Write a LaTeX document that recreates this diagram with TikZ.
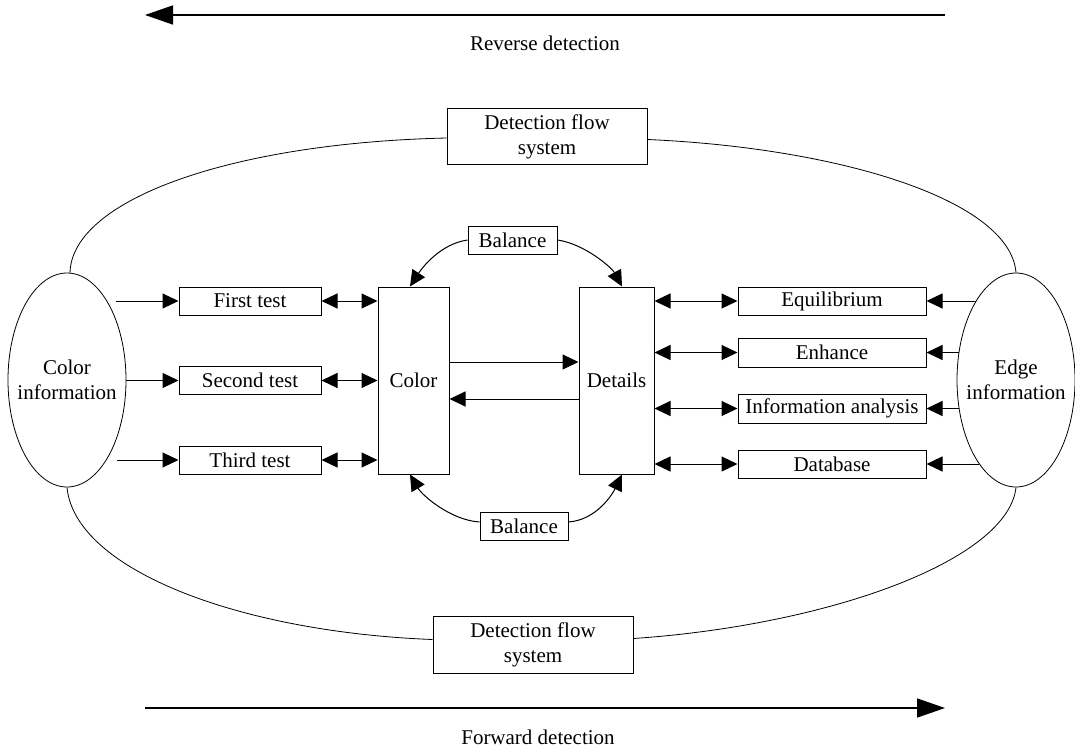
\documentclass[tikz,border=0pt]{standalone}
\usepackage{fontspec}
\setmainfont{Liberation Serif}
\usetikzlibrary{arrows.meta,shapes.geometric}
\tikzstyle{block} = [draw, line width=1pt, inner sep=0pt, align=center]
\tikzstyle{oval} = [
  draw,
  ellipse,
  line width=0.8pt,
  inner sep=0pt,
  minimum width=118pt,
  minimum height=214pt,
]
\tikzstyle{link} = [line width=1pt, -{Triangle[length=16pt,width=15pt]}]
\tikzstyle{dlink} = [line width=1pt, {Triangle[length=16pt,width=15pt]}-{Triangle[length=16pt,width=15pt]}]
\tikzstyle{flow} = [line width=1.6pt, -{Triangle[length=28pt,width=19pt]}]
\tikzstyle{rim} = [line width=0.8pt]

\begin{document}
\begin{tikzpicture}[x=1pt, y=-1pt, font=\fontsize{21}{25}\selectfont]
      \useasboundingbox (0,0) rectangle (1075,749);

      % Direction arrows
      \coordinate (R1) at (945,15);
      \coordinate (R2) at (145,15);
      \coordinate (F1) at (145,708);
      \coordinate (F2) at (945,708);
      \draw[flow] (R1) -- (R2);
      \draw[flow] (F1) -- (F2);
      \node (rev) at (545,43) {Reverse detection};
      \node (fwd) at (538,737) {Forward detection};

      % Ovals
      \node[oval, label={[align=center]center:Color\\information}] (cinfo) at (67,380) {};
      \node[oval, label={[align=center]center:Edge\\information}] (einfo) at (1016,380) {};

      % Flow system boxes
      \node[block, minimum width=200pt, minimum height=55pt] (dfst) at (547,136.5) {Detection flow\\system};
      \node[block, minimum width=200pt, minimum height=57pt] (dfsb) at (533,644.5) {Detection flow\\system};

      % Tests
      \node[block, minimum width=142pt, minimum height=28pt] (first) at (250,301) {First test};
      \node[block, minimum width=142pt, minimum height=28pt] (second) at (250,380.5) {Second test};
      \node[block, minimum width=142pt, minimum height=28pt] (third) at (250,460) {Third test};

      % Color and details
      \node[block, minimum width=71pt, minimum height=187pt] (color) at (413.5,380.5) {Color};
      \node[block, minimum width=75pt, minimum height=187pt] (details) at (616.5,380.5) {Details};
      \node[block, minimum width=89pt, minimum height=28pt] (balt) at (512.5,240) {Balance};
      \node[block, minimum width=88pt, minimum height=28pt] (balb) at (524,526) {Balance};

      % Right column
      \node[block, minimum width=188pt, minimum height=28pt] (equil) at (832,301) {Equilibrium};
      \node[block, minimum width=188pt, minimum height=29pt] (enh) at (832,352.5) {Enhance};
      \node[block, minimum width=188pt, minimum height=29pt] (infan) at (832,408.5) {Information analysis};
      \node[block, minimum width=188pt, minimum height=28pt] (dbase) at (832,464) {Database};

      % Outer loop
      \draw[rim] ([xshift=3pt]cinfo.north) .. controls (72,200) and (230,143) .. ([yshift=-1.5pt]dfst.west);
      \draw[rim] ([yshift=-3pt]dfst.east) .. controls (840,148) and (1010,200) .. (einfo.north);
      \draw[rim] (cinfo.south) .. controls (75,570) and (240,632) .. ([yshift=5pt]dfsb.west);
      \draw[rim] ([yshift=6pt]dfsb.east) .. controls (830,625) and (1008,560) .. (einfo.south);

      % Left inputs
      \draw[link] ([xshift=-10pt]cinfo.east |- first) -- (first);
      \draw[link] (cinfo.east |- second) -- (second);
      \draw[link] ([xshift=-9pt]cinfo.east |- third) -- (third);
      \draw[dlink] (first) -- (color.west |- first);
      \draw[dlink] (second) -- (color.west |- second);
      \draw[dlink] (third) -- (color.west |- third);

      % Middle
      \draw[link] ([yshift=18.5pt]color.east) -- ([yshift=18.5pt]details.west);
      \draw[link] ([yshift=-18.5pt]details.west) -- ([yshift=-18.5pt]color.east);
      \draw[link] (balt.west) .. controls (440,244) and (422,268) .. ([xshift=-3.5pt]color.north);
      \draw[link] (balt.east) .. controls (585,244) and (612,268) .. ([xshift=5.5pt]details.north);
      \draw[link] ([yshift=4pt]balb.west) .. controls (450,520) and (422,495) .. ([xshift=-3.5pt]color.south);
      \draw[link] ([yshift=4pt]balb.east) .. controls (596,520) and (612,495) .. ([xshift=5.5pt]details.south);

      % Right inputs
      \draw[dlink] (details.east |- equil) -- (equil);
      \draw[dlink] (details.east |- enh) -- (enh);
      \draw[dlink] (details.east |- infan) -- (infan);
      \draw[dlink] (details.east |- dbase) -- (dbase);
      \draw[link] ([xshift=19pt]einfo.west |- equil) -- (equil);
      \draw[link] ([xshift=2pt]einfo.west |- enh) -- (enh);
      \draw[link] ([xshift=2pt]einfo.west |- infan) -- (infan);
      \draw[link] ([xshift=22pt]einfo.west |- dbase) -- (dbase);
    \end{tikzpicture}
\end{document}
